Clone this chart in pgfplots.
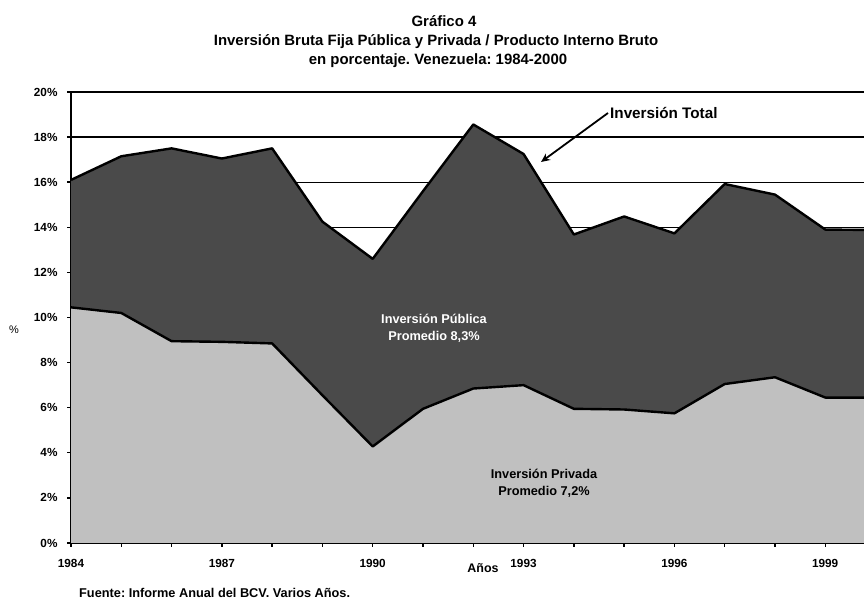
\documentclass[border=0pt]{standalone}
\usepackage{pgfplots}
\pgfplotsset{compat=1.18}
\usetikzlibrary{arrows.meta}
\usepackage{fontspec}
\setmainfont{Liberation Sans}
\definecolor{darkfill}{HTML}{4A4A4A}
\definecolor{lightfill}{HTML}{C0C0C0}
\frenchspacing
\begin{document}
\begin{tikzpicture}
\begin{axis}[
  at={(71bp,59bp)}, anchor=south west,
  scale only axis, width=793bp, height=451bp,
  xmin=1984, xmax=1999.77, ymin=0, ymax=20,
  axis x line=bottom, axis y line=left,
  axis line style={-, line width=1.6bp},
  xtick={1984,...,1999},
  xticklabels={1984,{},{},1987,{},{},1990,{},{},1993,{},{},1996,{},{},1999},
  ytick={0,2,...,20},
  yticklabel={\pgfmathprintnumber{\tick}\%},
  /pgf/number format/assume math mode=true,
  tick align=outside, major tick length=4bp,
  tick style={black, line width=1.4bp},
  ymajorgrids, grid style={black, line width=1.3bp},
  ticklabel style={font=\bfseries\fontsize{11.8}{12}\selectfont},
  xticklabel style={yshift=-9bp},
  yticklabel style={xshift=-6bp},
  clip=true,
]
\addplot[fill=darkfill, draw=none] table[x=year,y=total] {
year privada total
1984 10.45 16.10
1985 10.20 17.15
1986 8.95 17.50
1987 8.92 17.05
1988 8.85 17.50
1989 6.55 14.25
1990 4.28 12.60
1991 5.95 15.60
1992 6.85 18.56
1993 7.00 17.25
1994 5.95 13.68
1995 5.92 14.48
1996 5.75 13.73
1997 7.05 15.92
1998 7.35 15.45
1999 6.45 13.90
2000 6.45 13.88
} \closedcycle;
\addplot[fill=lightfill, draw=none] table[x=year,y=privada] {
year privada total
1984 10.45 16.10
1985 10.20 17.15
1986 8.95 17.50
1987 8.92 17.05
1988 8.85 17.50
1989 6.55 14.25
1990 4.28 12.60
1991 5.95 15.60
1992 6.85 18.56
1993 7.00 17.25
1994 5.95 13.68
1995 5.92 14.48
1996 5.75 13.73
1997 7.05 15.92
1998 7.35 15.45
1999 6.45 13.90
2000 6.45 13.88
} \closedcycle;
\addplot[black, line width=2.4bp, line join=round] table[x=year,y=total] {
year privada total
1984 10.45 16.10
1985 10.20 17.15
1986 8.95 17.50
1987 8.92 17.05
1988 8.85 17.50
1989 6.55 14.25
1990 4.28 12.60
1991 5.95 15.60
1992 6.85 18.56
1993 7.00 17.25
1994 5.95 13.68
1995 5.92 14.48
1996 5.75 13.73
1997 7.05 15.92
1998 7.35 15.45
1999 6.45 13.90
2000 6.45 13.88
};
\addplot[black, line width=2.4bp, line join=round] table[x=year,y=privada] {
year privada total
1984 10.45 16.10
1985 10.20 17.15
1986 8.95 17.50
1987 8.92 17.05
1988 8.85 17.50
1989 6.55 14.25
1990 4.28 12.60
1991 5.95 15.60
1992 6.85 18.56
1993 7.00 17.25
1994 5.95 13.68
1995 5.92 14.48
1996 5.75 13.73
1997 7.05 15.92
1998 7.35 15.45
1999 6.45 13.90
2000 6.45 13.88
};
\end{axis}
\node[font=\bfseries\fontsize{15}{17}\selectfont] at (444bp,581bp) {Gráfico 4};
\node[font=\bfseries\fontsize{15}{17}\selectfont] at (436bp,560bp) {Inversión Bruta Fija Pública y Privada / Producto Interno Bruto};
\node[font=\bfseries\fontsize{15}{17}\selectfont] at (438bp,541bp) {en porcentaje. Venezuela: 1984-2000};
\node[font=\bfseries\fontsize{15.3}{17}\selectfont, anchor=west, inner sep=0pt] at (610bp,489bp) {Inversión Total};
\draw[line width=1.8bp, -{Stealth[length=9bp,width=8bp]}] (608bp,489bp) -- (541bp,440bp);
\node[font=\bfseries\fontsize{12.8}{17}\selectfont, white, align=center] at (434bp,274bp) {Inversión Pública\\Promedio 8,3\%};
\node[font=\bfseries\fontsize{12.8}{17}\selectfont, black, align=center] at (544bp,119bp) {Inversión Privada\\Promedio 7,2\%};
\node[font=\fontsize{11}{12}\selectfont] at (14bp,272bp) {\%};
\node[font=\bfseries\fontsize{12.5}{13}\selectfont] at (483bp,34bp) {Años};
\node[font=\bfseries\fontsize{12.8}{14}\selectfont, anchor=west, inner sep=0pt] at (79bp,9bp) {Fuente: Informe Anual del BCV. Varios Años.};
\pgfresetboundingbox
\useasboundingbox (0,0) rectangle (864bp,602bp);
\end{tikzpicture}
\end{document}
